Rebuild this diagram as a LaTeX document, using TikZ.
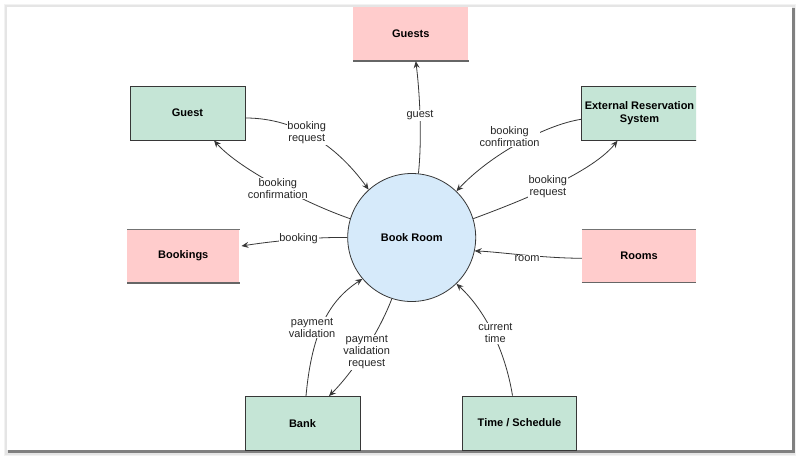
\documentclass[tikz,border=0pt]{standalone}
\usepackage{fontspec}
\setmainfont{Liberation Sans}
\usetikzlibrary{arrows.meta,calc}
\definecolor{grn}{RGB}{197,229,214}
\definecolor{pnk}{RGB}{255,204,204}
\definecolor{blu}{RGB}{214,234,250}
\definecolor{ln}{RGB}{55,55,55}
\begin{document}
\begin{tikzpicture}[x=1pt,y=-1pt,
  ent/.style={draw=ln,fill=grn,line width=0.9pt,minimum width=115pt,minimum height=54pt,inner sep=0pt,
    font=\fontsize{11}{12.5}\selectfont\bfseries,align=center},
  store/.style={fill=pnk,minimum height=54pt,inner sep=0pt,font=\fontsize{11}{12.5}\selectfont\bfseries},
  proc/.style={circle,draw=ln,fill=blu,line width=0.8pt,minimum size=128pt,inner sep=0pt,
    font=\fontsize{11}{12.5}\selectfont\bfseries},
  flow/.style={draw=ln,line width=0.8pt,-{Stealth[length=7pt,width=6pt,inset=2.5pt]}},
  lbl/.style={fill=white,inner sep=0.8pt,font=\fontsize{11}{12}\selectfont,align=center,text=black!85},
  stop/.style={draw=black!55,line width=0.9pt},
  sbot/.style={draw=black!60,line width=1.8pt}]
\useasboundingbox (0,0) rectangle (800,458);
% panel and shadow
\fill[black!5] (4,4) rectangle (796,456);
\fill[black!10] (5,5) rectangle (795,455);
\fill[black!50] (8,8) rectangle (794.5,452.5);
\fill[white] (7,7) rectangle (792,450);
\begin{scope}
\clip (7,7) rectangle (696,450);
% nodes
\node[ent] (guest) at (187.5,113) {Guest};
\node[ent,minimum width=116pt] (ext) at (639.5,113.3) {External Reservation\\System};
\node[ent] (bank) at (302.5,423.5) {Bank};
\node[ent,minimum width=114.5pt] (time) at (519.5,423) {Time / Schedule};
\node[store,minimum width=115pt] (guests) at (410.8,34) {Guests};
\node[store,minimum width=112pt,minimum height=53.4pt] (bookings) at (183.3,256) {Bookings};
\node[store,minimum width=114pt,minimum height=53pt] (rooms) at (639,255.8) {Rooms};
\node[proc] (book) at (411.7,237.5) {Book Room};
% store lines
\draw[stop] (guests.north west) -- (guests.north east);
\draw[sbot] (guests.south west) -- (guests.south east);
\draw[stop] (bookings.north west) -- (bookings.north east);
\draw[sbot] (bookings.south west) -- (bookings.south east);
\draw[stop] (rooms.north west) -- (rooms.north east);
\draw[sbot] (rooms.south west) -- (rooms.south east);
% flows
\draw[flow] ($(guest.east)+(0,5)$) .. controls (300,118) and (340,150) .. (book.132)
  node[lbl,pos=0.42]{booking\\request};
\draw[flow] (book.163) .. controls (310,205) and (240,170) .. ($(guest.south)+(26.5,0)$)
  node[lbl,pos=0.5,shift={(1,3)}]{booking\\confirmation};
\draw[flow] (book.84) .. controls (422,140) and (420,95) .. ($(guests.south)+(5,0)$)
  node[lbl,pos=0.5,shift={(0,-2)}]{guest};
\draw[flow] ($(ext.west)+(0,6)$) .. controls (545,125) and (490,155) .. (book.46)
  node[lbl,pos=0.45,shift={(-15,-4)}]{booking\\confirmation};
\draw[flow] (book.17) .. controls (510,205) and (590,175) .. ($(ext.south)+(-22,0)$)
  node[lbl,pos=0.5,shift={(-1,-1)}]{booking\\request};
\draw[flow] (book.180) .. controls (320,237) and (280,240) .. ($(bookings.east)+(2,-10)$)
  node[lbl,pos=0.5,shift={(0,-1)}]{booking};
\draw[flow] ($(rooms.west)+(0,2.5)$) .. controls (540,258) and (500,252) .. (book.-12)
  node[lbl,pos=0.5,shift={(5,4)}]{room};
\draw[flow] ($(time.north)+(-7,0)$) .. controls (505,350) and (485,310) .. (book.-46)
  node[lbl,pos=0.5,shift={(3,1)}]{current\\time};
\draw[flow] ($(bank.north)+(3.5,0)$) .. controls (312,330) and (330,300) .. (book.220)
  node[lbl,pos=0.42,shift={(-8,-2)}]{payment\\validation};
\draw[flow] (book.252) .. controls (380,330) and (355,370) .. ($(bank.north)+(26.5,0)$)
  node[lbl,pos=0.5,shift={(1,3)}]{payment\\validation\\request};
\end{scope}
\end{tikzpicture}
\end{document}
